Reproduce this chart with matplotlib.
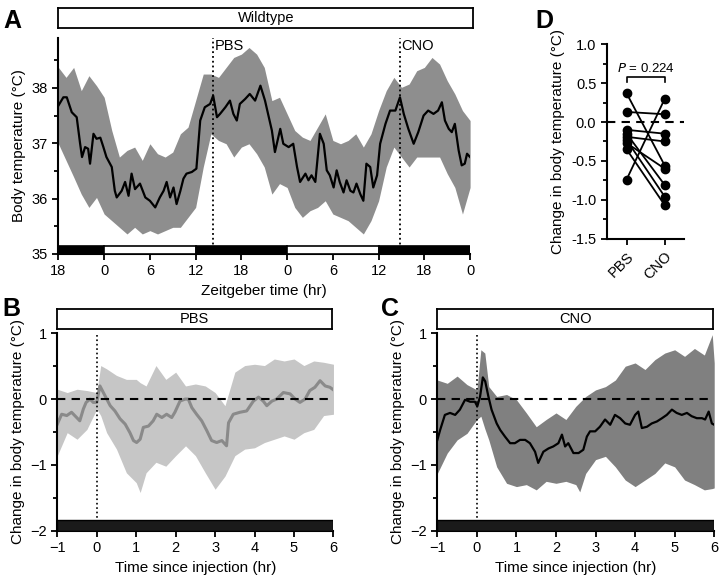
import matplotlib
matplotlib.use("Agg")
import matplotlib.pyplot as plt
import numpy as np

plt.rcParams['font.family'] = ['Liberation Sans', 'DejaVu Sans']
plt.rcParams['font.size'] = 10

# ---- panel A: wildtype body temperature (hours since ZT18 of day -1)
a_t = [0, 0.65, 1.1, 1.75, 2.4, 2.85, 3.1, 3.5, 3.9, 4.15, 4.6, 5.0, 5.5, 5.9, 6.3, 7.0, 7.4,
       7.65, 8.3, 8.75, 9.2, 9.6, 10.05, 10.7, 11.4, 12.0, 12.7, 13.3, 13.8, 14.2, 14.65, 15.1,
       15.5, 16.0, 16.4, 16.8, 17.5, 18.1, 18.6, 19.2, 19.9, 20.3, 20.8, 21.2, 21.9, 22.5,
       22.95, 23.4, 23.8, 24.5, 25.1, 25.8, 26.5, 27.1, 27.5, 28.0, 28.4, 29.1, 29.5, 30.2,
       30.8, 31.3, 31.7, 32.4, 32.8, 33.2, 33.7, 34.3, 34.8, 35.2, 35.6, 36.1, 36.5, 36.9,
       37.4, 37.8, 38.3, 38.7, 39.1, 39.6, 40.0, 40.4, 40.9, 41.3, 41.8, 42.2, 42.9, 43.5,
       44.2, 44.8, 45.3, 45.9, 46.6, 47.2, 47.9, 48.5, 49.2, 49.8, 50.3, 50.7, 51.2, 51.6,
       52.0, 52.5, 52.9, 53.3, 53.6, 54.0]
a_mean = [37.68, 37.83, 37.83, 37.56, 37.47, 36.99, 36.75, 36.93, 36.9, 36.63, 37.17, 37.08,
          37.1, 36.93, 36.75, 36.57, 36.14, 36.02, 36.14, 36.3, 36.05, 36.45, 36.17, 36.27,
          36.02, 35.96, 35.84, 36.02, 36.14, 36.3, 36.02, 36.2, 35.9, 36.14, 36.36, 36.45,
          36.48, 36.54, 37.41, 37.65, 37.71, 37.86, 37.47, 37.53, 37.65, 37.77, 37.53, 37.41,
          37.71, 37.8, 37.89, 37.77, 38.04, 37.77, 37.53, 37.23, 36.84, 37.26, 36.99, 36.93,
          36.99, 36.57, 36.3, 36.45, 36.33, 36.42, 36.3, 37.17, 36.99, 36.51, 36.42, 36.2,
          36.51, 36.3, 36.11, 36.33, 36.14, 36.11, 36.27, 36.08, 35.96, 36.63, 36.57, 36.2,
          36.42, 36.99, 37.35, 37.59, 37.59, 37.83, 37.53, 37.26, 36.99, 37.2, 37.5, 37.59,
          37.53, 37.59, 37.74, 37.41, 37.26, 37.2, 37.35, 36.87, 36.6, 36.63, 36.81, 36.75]
a_band_t = list(range(55))
a_upper = [38.37, 38.19, 38.37, 37.95, 38.22, 38.04, 37.83, 37.23, 36.75, 36.87, 36.93, 36.69,
           36.99, 36.81, 36.75, 36.84, 37.17, 37.29, 37.77, 38.25, 38.25, 38.19, 38.37, 38.55,
           38.61, 38.73, 38.61, 38.37, 37.77, 37.83, 37.53, 37.23, 37.11, 37.05, 37.29, 37.53,
           37.05, 36.99, 37.05, 37.17, 36.93, 37.17, 37.59, 37.95, 38.19, 38.01, 38.07, 38.31,
           38.37, 38.55, 38.43, 38.13, 37.89, 37.59, 37.41]
a_lower = [36.99, 36.69, 36.39, 36.08, 35.84, 36.02, 35.72, 35.6, 35.48, 35.36, 35.48, 35.36,
           35.42, 35.36, 35.42, 35.48, 35.48, 35.66, 35.84, 36.57, 37.17, 37.05, 36.99, 36.75,
           36.93, 36.99, 36.81, 36.57, 36.08, 36.27, 36.2, 35.84, 35.66, 35.78, 35.84, 35.96,
           35.72, 35.66, 35.6, 35.48, 35.36, 35.6, 35.96, 36.57, 36.93, 36.75, 36.57, 36.75,
           36.75, 36.75, 36.75, 36.45, 36.2, 35.72, 36.2]
a_ticks = [0, 6, 12, 18, 24, 30, 36, 42, 48, 54]
a_ticklabels = ['18', '0', '6', '12', '18', '0', '6', '12', '18', '0']
# light/dark bar: (start, end, colour)
a_lightdark = [(0, 6, 'k'), (6, 18, 'w'), (18, 30, 'k'), (30, 42, 'w'), (42, 54, 'k')]
a_injections = [(20.25, 'PBS'), (44.75, 'CNO')]

# ---- panel B: PBS
b_t = [-1.0, -0.89, -0.76, -0.64, -0.51, -0.43, -0.34, -0.27, -0.17, -0.09, 0.0, 0.08, 0.21,
       0.34, 0.46, 0.59, 0.72, 0.84, 0.93, 1.01, 1.10, 1.18, 1.31, 1.43, 1.52, 1.65, 1.77, 1.90,
       1.98, 2.11, 2.24, 2.32, 2.41, 2.53, 2.66, 2.79, 2.91, 3.04, 3.17, 3.29, 3.34, 3.46, 3.63,
       3.80, 3.97, 4.10, 4.22, 4.31, 4.44, 4.56, 4.73, 4.90, 5.03, 5.15, 5.28, 5.40, 5.53, 5.66,
       5.79, 5.91, 6.0]
b_mean = [-0.38, -0.23, -0.25, -0.20, -0.28, -0.33, -0.15, -0.05, 0.0, -0.05, -0.05, 0.20,
          0.05, -0.10, -0.18, -0.30, -0.38, -0.51, -0.63, -0.66, -0.61, -0.43, -0.41, -0.33,
          -0.23, -0.28, -0.23, -0.28, -0.20, -0.03, 0.0, 0.0, -0.13, -0.23, -0.33, -0.48,
          -0.63, -0.66, -0.63, -0.71, -0.36, -0.23, -0.20, -0.18, -0.03, 0.03, -0.03, -0.10,
          -0.03, 0.0, 0.10, 0.08, 0.0, -0.05, 0.0, 0.13, 0.18, 0.28, 0.20, 0.18, 0.14]
b_band_t = [-1.0, -0.75, -0.5, -0.25, 0.0, 0.1, 0.25, 0.5, 0.75, 1.0, 1.1, 1.25, 1.5, 1.75, 2.0,
            2.25, 2.5, 2.75, 3.0, 3.25, 3.5, 3.75, 4.0, 4.25, 4.5, 4.75, 5.0, 5.25, 5.5, 5.75, 6.0]
b_upper = [0.15, 0.10, 0.15, 0.13, 0.10, 0.51, 0.46, 0.36, 0.30, 0.30, 0.25, 0.20, 0.51, 0.30,
           0.41, 0.20, 0.23, 0.20, 0.10, -0.10, 0.41, 0.51, 0.53, 0.51, 0.61, 0.58, 0.61, 0.51,
           0.58, 0.56, 0.53]
b_lower = [-0.86, -0.51, -0.61, -0.46, -0.15, -0.25, -0.51, -0.76, -1.12, -1.27, -1.42, -1.12,
           -0.96, -1.02, -0.86, -0.71, -0.86, -1.12, -1.37, -1.17, -0.86, -0.76, -0.74, -0.66,
           -0.61, -0.56, -0.61, -0.51, -0.46, -0.25, -0.23]

# ---- panel C: CNO
c_t = [-1.0, -0.93, -0.81, -0.68, -0.55, -0.43, -0.30, -0.17, -0.05, 0.01, 0.08, 0.15, 0.21,
       0.29, 0.37, 0.50, 0.59, 0.71, 0.84, 0.96, 1.09, 1.22, 1.34, 1.47, 1.55, 1.68, 1.81, 1.93,
       2.06, 2.15, 2.23, 2.31, 2.44, 2.57, 2.69, 2.78, 2.86, 2.99, 3.11, 3.24, 3.37, 3.49, 3.62,
       3.75, 3.87, 4.0, 4.08, 4.17, 4.30, 4.42, 4.55, 4.68, 4.80, 4.93, 5.05, 5.18, 5.31, 5.43,
       5.56, 5.69, 5.77, 5.86, 5.94, 6.0]
c_mean = [-0.62, -0.47, -0.24, -0.21, -0.24, -0.16, -0.01, -0.04, -0.04, -0.11, 0.04, 0.33,
          0.27, 0.04, -0.16, -0.37, -0.47, -0.57, -0.67, -0.67, -0.62, -0.62, -0.67, -0.80,
          -0.97, -0.80, -0.75, -0.72, -0.67, -0.54, -0.72, -0.67, -0.82, -0.82, -0.77, -0.57,
          -0.49, -0.49, -0.42, -0.31, -0.39, -0.24, -0.29, -0.37, -0.39, -0.24, -0.19, -0.44,
          -0.42, -0.37, -0.34, -0.29, -0.24, -0.16, -0.21, -0.24, -0.21, -0.26, -0.29, -0.29,
          -0.31, -0.19, -0.37, -0.39]
c_band_t = [-1.0, -0.75, -0.5, -0.25, 0.0, 0.1, 0.2, 0.3, 0.5, 0.75, 1.0, 1.25, 1.5, 1.75, 2.0,
            2.25, 2.5, 2.6, 2.75, 3.0, 3.25, 3.5, 3.75, 4.0, 4.25, 4.5, 4.75, 5.0, 5.25, 5.5,
            5.75, 5.95, 6.0]
c_upper = [0.29, 0.24, 0.35, 0.22, 0.14, 0.75, 0.70, 0.19, 0.04, 0.07, -0.01, -0.21, -0.42,
           -0.31, -0.21, -0.31, -0.11, -0.05, 0.04, 0.14, 0.19, 0.29, 0.50, 0.55, 0.45, 0.60,
           0.70, 0.75, 0.65, 0.77, 0.67, 0.98, 0.55]
c_lower = [-1.13, -0.82, -0.62, -0.52, -0.31, -0.26, -0.45, -0.62, -1.03, -1.28, -1.33, -1.30,
           -1.38, -1.25, -1.28, -1.25, -1.30, -1.41, -1.13, -0.92, -0.87, -1.03, -1.23, -1.33,
           -1.23, -1.13, -0.97, -1.03, -1.23, -1.30, -1.38, -1.36, -1.35]

# ---- panel D: paired change after injection
d_groups = ['PBS', 'CNO']
d_pbs = [0.37, 0.13, -0.74, -0.10, -0.19, -0.15, -0.27, -0.23, -0.35]
d_cno = [-0.56, 0.10, 0.30, -0.15, -0.25, -0.81, -0.60, -0.96, -1.07]
d_p_text = '= 0.224'

fig = plt.figure(figsize=(7.21, 5.77), dpi=100)


def style(ax):
    for s in ['top', 'right']:
        ax.spines[s].set_visible(False)
    ax.spines['left'].set_linewidth(1.5)
    ax.spines['bottom'].set_linewidth(1.5)
    ax.tick_params(direction='out', width=1.3, length=4, labelsize=10.5)
    ax.tick_params(which='minor', direction='out', width=1.3, length=3)


def box(rect, label):
    bx = fig.add_axes(rect)
    bx.set_xticks([])
    bx.set_yticks([])
    for s in bx.spines.values():
        s.set_linewidth(1.3)
    bx.text(0.5, 0.5, label, ha='center', va='center', fontsize=10.5, transform=bx.transAxes)


# A
axA = fig.add_axes([0.081, 0.560, 0.571, 0.374])
style(axA)
axA.fill_between(a_band_t, a_lower, a_upper, color='#8e8e8e', lw=0)
axA.plot(a_t, a_mean, color='k', lw=1.6)
for x0, x1, c in a_lightdark:
    axA.add_patch(plt.Rectangle((x0, 35), x1 - x0, 0.15, facecolor=c, edgecolor='k', lw=1.2, zorder=3))
for x, lab in a_injections:
    axA.axvline(x, color='k', ls=':', lw=1.3, zorder=4)
    axA.text(x + 0.2, 38.75, lab, fontsize=10.5, ha='left', va='center')
axA.set_xlim(0, 54)
axA.set_ylim(35, 38.9)
axA.set_xticks(a_ticks)
axA.set_xticklabels(a_ticklabels)
axA.set_yticks([35, 36, 37, 38])
axA.set_yticks(np.arange(35, 38.9, 0.5), minor=True)
axA.set_xlabel('Zeitgeber time (hr)', fontsize=11)
axA.set_ylabel('Body temperature (°C)', fontsize=11)
box([0.081, 0.952, 0.575, 0.034], 'Wildtype')
fig.text(0.005, 0.985, 'A', fontsize=18, fontweight='bold', va='top')

# D
axD = fig.add_axes([0.8415, 0.5863, 0.107, 0.337])
style(axD)
for p, c in zip(d_pbs, d_cno):
    axD.plot([0, 1], [p, c], color='k', lw=1.3, marker='o', ms=6)
axD.axhline(0, color='k', ls=(0, (4, 3)), lw=1.5)
axD.plot([0, 0, 1, 1], [0.52, 0.58, 0.58, 0.52], color='k', lw=1.2)
axD.text(0.5, 0.6, r'$\it{P}$ ' + d_p_text, ha='center', va='bottom', fontsize=9.5)
axD.set_xlim(-0.52, 1.5)
axD.set_ylim(-1.5, 1.0)
axD.set_xticks([0, 1])
axD.set_xticklabels(d_groups, rotation=45, ha='right', rotation_mode='anchor')
axD.set_yticks(np.arange(-1.5, 1.01, 0.5))
axD.set_yticks(np.arange(-1.5, 1.01, 0.25), minor=True)
axD.yaxis.set_major_formatter(matplotlib.ticker.FormatStrFormatter('%.1f'))
axD.set_ylabel('Change in body temperature (°C)', fontsize=11)
fig.text(0.742, 0.985, 'D', fontsize=18, fontweight='bold', va='top')

# B and C
for rect, t, m, bt, up, lo, bandc, linec, lw, lab, letter, lx in [
        ([0.0795, 0.0803, 0.383, 0.342], b_t, b_mean, b_band_t, b_upper, b_lower,
         '#c6c6c6', '#8a8a8a', 2.2, 'PBS', 'B', 0.003),
        ([0.6066, 0.0803, 0.384, 0.342], c_t, c_mean, c_band_t, c_upper, c_lower,
         '#808080', 'k', 1.6, 'CNO', 'C', 0.528)]:
    ax = fig.add_axes(rect)
    style(ax)
    ax.fill_between(bt, lo, up, color=bandc, lw=0)
    ax.plot(t, m, color=linec, lw=lw)
    ax.axhline(0, color='k', ls=(0, (4, 3)), lw=1.5)
    ax.axvline(0, color='k', ls=':', lw=1.2)
    ax.add_patch(plt.Rectangle((-1, -2), 7, 0.16, facecolor='#1a1a1a', edgecolor='k', lw=1, zorder=3))
    ax.set_xlim(-1, 6)
    ax.set_ylim(-2, 1)
    ax.set_xticks(range(-1, 7))
    ax.set_yticks([-2, -1, 0, 1])
    ax.set_yticks(np.arange(-2, 1.01, 0.5), minor=True)
    ax.set_xlabel('Time since injection (hr)', fontsize=11)
    ax.set_ylabel('Change in body temperature (°C)', fontsize=11)
    box([rect[0], 0.4293, rect[2] - 0.002, 0.0347], lab)
    fig.text(lx, 0.485, letter, fontsize=18, fontweight='bold', va='top')

fig.savefig('out.png', dpi=100)
